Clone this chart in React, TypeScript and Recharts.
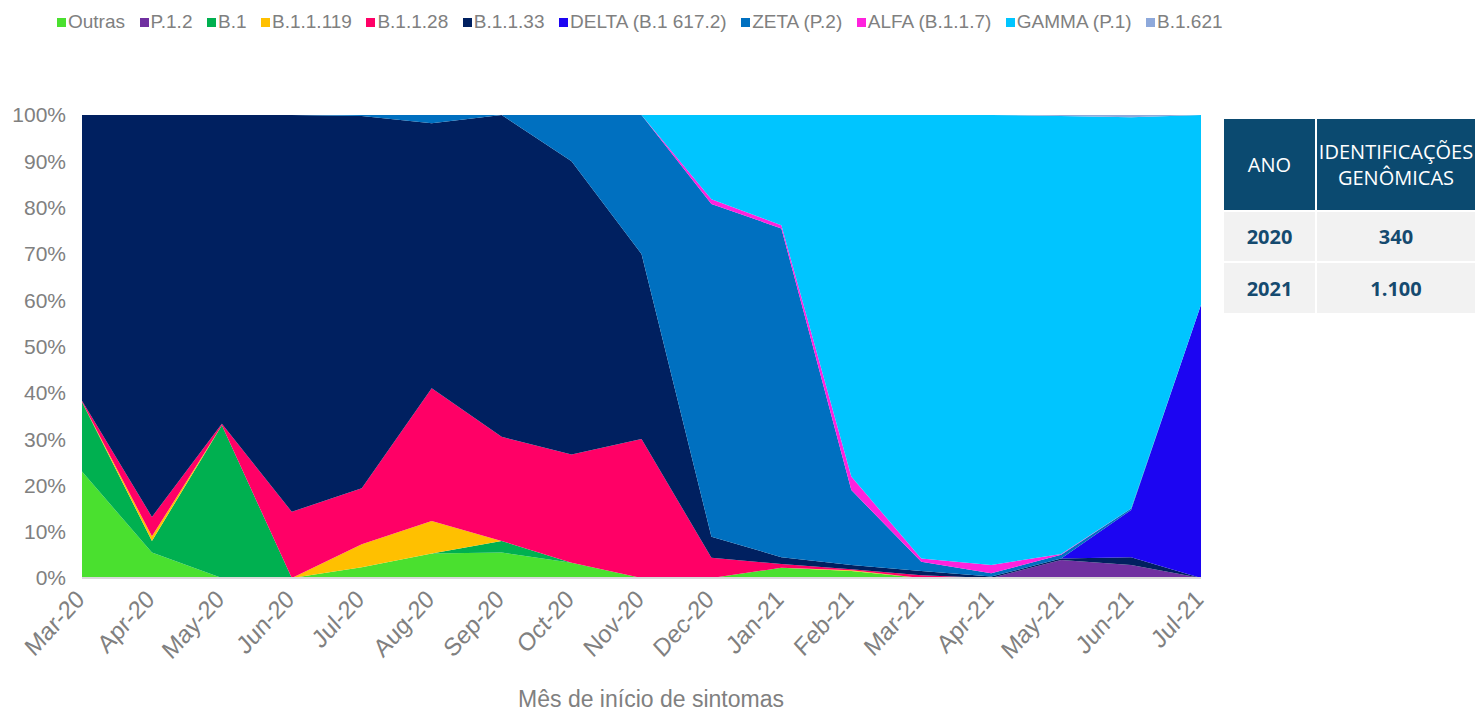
import React from "react"
import { AreaChart, Area, XAxis, YAxis } from "recharts"

// meses de início de sintomas
const months = ["Mar-20", "Apr-20", "May-20", "Jun-20", "Jul-20", "Aug-20", "Sep-20", "Oct-20", "Nov-20", "Dec-20", "Jan-21", "Feb-21", "Mar-21", "Apr-21", "May-21", "Jun-21", "Jul-21"]

// % de cada linhagem por mês
const outras = [23, 5.5, 0, 0, 2.3, 5.3, 5.5, 3.3, 0, 0, 2.2, 1.5, 0, 0, 0, 0, 0]
const p12 = [0, 0, 0, 0, 0, 0, 0, 0, 0, 0, 0, 0, 0, 0, 3.9, 2.8, 0]
const b1 = [15, 2.5, 33, 0, 0, 0, 2.5, 0, 0, 0, 0, 0, 0, 0, 0, 0, 0]
const b11119 = [0, 1, 0, 0, 5, 7, 0, 0, 0, 0, 0, 0.2, 0, 0, 0, 0, 0]
const b1128 = [0.3, 4.2, 0.3, 14.3, 12.1, 28.7, 22.5, 23.4, 30, 4.4, 0.8, 0.2, 0.6, 0, 0, 0, 0]
const b1133 = [61.7, 86.8, 66.7, 85.7, 80.4, 57.2, 69.5, 63.3, 40, 4.5, 1.5, 0.9, 0.9, 0.3, 0.3, 1.7, 0]
const delta = [0, 0, 0, 0, 0, 0, 0, 0, 0, 0, 0, 0, 0, 0, 0, 10.2, 59]
const zeta = [0, 0, 0, 0, 0.2, 1.8, 0, 10, 30, 71.9, 71, 16.2, 2, 0.7, 0.8, 0.3, 0]
const alfa = [0, 0, 0, 0, 0, 0, 0, 0, 0, 1, 0.7, 2.9, 0.7, 1.8, 0.2, 0, 0]
const gamma = [0, 0, 0, 0, 0, 0, 0, 0, 0, 18.2, 23.8, 78.1, 95.8, 97.2, 94.6, 84.5, 41]
const b1621 = [0, 0, 0, 0, 0, 0, 0, 0, 0, 0, 0, 0, 0, 0, 0.2, 0.5, 0]

const yTicks = [0, 10, 20, 30, 40, 50, 60, 70, 80, 90, 100]

const tableYears = ["2020", "2021"]
const tableCounts = ["340", "1.100"]

const series = [
  { key: "outras", name: "Outras", color: "#4AE02F", values: outras },
  { key: "p12", name: "P.1.2", color: "#7030A0", values: p12 },
  { key: "b1", name: "B.1", color: "#00B050", values: b1 },
  { key: "b11119", name: "B.1.1.119", color: "#FFC000", values: b11119 },
  { key: "b1128", name: "B.1.1.28", color: "#FF0066", values: b1128 },
  { key: "b1133", name: "B.1.1.33", color: "#002060", values: b1133 },
  { key: "delta", name: "DELTA (B.1 617.2)", color: "#1C05F2", values: delta },
  { key: "zeta", name: "ZETA (P.2)", color: "#0070C0", values: zeta },
  { key: "alfa", name: "ALFA (B.1.1.7)", color: "#FF22DD", values: alfa },
  { key: "gamma", name: "GAMMA (P.1)", color: "#00C5FF", values: gamma },
  { key: "b1621", name: "B.1.621", color: "#8EA9DB", values: b1621 },
]

const data = months.map((m, i) => {
  const row: Record<string, string | number> = { month: m }
  series.forEach((s) => (row[s.key] = s.values[i]))
  return row
})

const grey = "#808080"
const font = "'Liberation Sans', Arial, sans-serif"

const XTick = ({ x, y, payload }: any) => (
  <g transform={`translate(${x - 4},${y})`}>
    <text x={-4} y={0} dy={15} textAnchor="end" transform="scale(1,1.1) rotate(-45)" fill={grey} fontSize={23} fontFamily={font}>
      {payload.value}
    </text>
  </g>
)

export default function App() {
  const headCell: React.CSSProperties = {
    background: "#0B4A70",
    color: "#fff",
    fontSize: 20,
    textAlign: "center",
    verticalAlign: "middle",
    lineHeight: "26px",
    padding: 0,
  }
  const bodyCell: React.CSSProperties = {
    background: "#F2F2F2",
    color: "#154A6F",
    fontWeight: 700,
    fontSize: 20,
    textAlign: "center",
    verticalAlign: "middle",
    padding: 0,
  }

  return (
    <div style={{ position: "absolute", left: 0, top: 0, width: 1483, height: 712, background: "#fff", fontFamily: font, overflow: "hidden" }}>
      <div style={{ position: "absolute", left: 57, top: 11, display: "flex", gap: 14.5, fontSize: 19, color: grey, whiteSpace: "nowrap" }}>
        {series.map((s) => (
          <div key={s.key} style={{ display: "flex", alignItems: "center", gap: 2 }}>
            <span style={{ width: 9, height: 9, background: s.color, display: "inline-block" }} />
            <span>{s.name}</span>
          </div>
        ))}
      </div>

      <div style={{ position: "absolute", left: 0, top: 0 }}>
        <AreaChart width={1220} height={712} data={data} margin={{ top: 115, right: 19, bottom: 44, left: 12 }}>
          <XAxis
            dataKey="month"
            tick={<XTick />}
            interval={0}
            height={90}
            tickLine={false}
            axisLine={{ stroke: "#D9D9D9", strokeWidth: 2 }}
          />
          <YAxis
            domain={[0, 100]}
            ticks={yTicks}
            tickFormatter={(v) => `${v}%`}
            axisLine={false}
            tickLine={false}
            width={70}
            tick={{ fill: grey, fontSize: 21, fontFamily: font, dx: -8 }}
          />
          {series.map((s) => (
            <Area
              key={s.key}
              type="linear"
              dataKey={s.key}
              name={s.name}
              stackId="1"
              stroke="none"
              fill={s.color}
              fillOpacity={1}
              isAnimationActive={false}
            />
          ))}
        </AreaChart>
      </div>

      <div style={{ position: "absolute", left: 0, width: 1302, top: 687, textAlign: "center", fontSize: 23, lineHeight: "25px", color: grey }}>
        Mês de início de sintomas
      </div>

      <table
        style={{
          position: "absolute",
          left: 1224,
          top: 119,
          borderCollapse: "collapse",
          fontFamily: "'Open Sans', sans-serif",
        }}
      >
        <tbody>
          <tr style={{ height: 92 }}>
            <td style={{ ...headCell, width: 91, borderRight: "2px solid #fff" }}>ANO</td>
            <td style={{ ...headCell, width: 158 }}>
              IDENTIFICAÇÕES
              <br />
              GENÔMICAS
            </td>
          </tr>
          {tableYears.map((y, i) => (
            <tr key={y} style={{ height: 51, borderTop: "2px solid #fff" }}>
              <td style={{ ...bodyCell, borderRight: "2px solid #fff" }}>{y}</td>
              <td style={bodyCell}>{tableCounts[i]}</td>
            </tr>
          ))}
        </tbody>
      </table>
    </div>
  )
}
